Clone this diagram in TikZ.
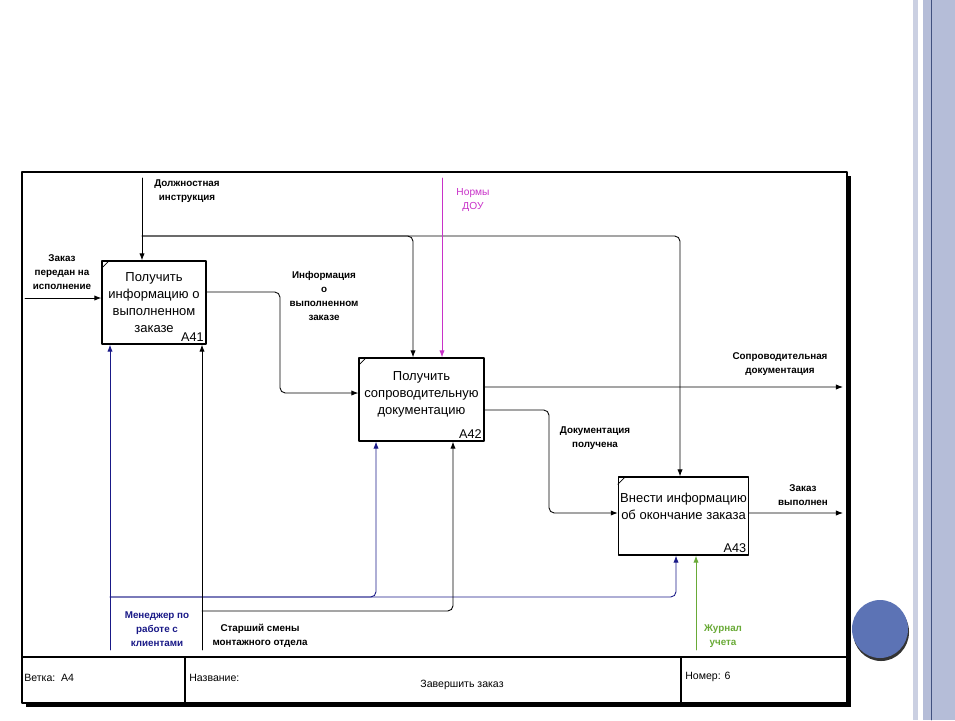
\documentclass[tikz,border=0pt]{standalone}
\usepackage{fontspec}
\setmainfont{Liberation Sans}
\usetikzlibrary{arrows.meta}
\usetikzlibrary{positioning}

\definecolor{navyline}{RGB}{25,25,135}
\definecolor{magline}{RGB}{200,50,200}
\definecolor{greenline}{RGB}{105,170,55}
\definecolor{slideband}{RGB}{181,189,216}
\definecolor{slidestripe}{RGB}{203,208,226}
\definecolor{slidedot}{RGB}{92,115,181}

\tikzset{
	func/.style={draw,line width=0.7pt,fill=white,align=center,inner sep=1pt,
		font=\fontsize{7.4}{9.6}\selectfont},
	fnum/.style={anchor=south east,inner sep=1.5pt,font=\fontsize{7.2}{8}\selectfont},
	lab/.style={align=center,inner sep=0pt,font=\fontsize{5.6}{7.8}\selectfont\bfseries},
	foot/.style={anchor=west,inner sep=0pt,font=\fontsize{6}{7}\selectfont},
	flow/.style={->,line width=0.5pt,rounded corners=3pt},
}

\begin{document}
\begin{tikzpicture}[line cap=round,line join=round,>
		={Latex[length=4pt,width=3pt]},
		x=0.02cm,y=-0.02cm]
		\useasboundingbox (0,0) rectangle (955,720);
		% fondo slide
		\fill[slidestripe] (913,0) rectangle (918,720);
		\fill[slideband] (923,0) rectangle (955,720);
		\draw[slidedot!70!black,line width=0.4pt] (931,0) -- (931,720);
		\fill[black!80] (881,632) ellipse (28 and 29);
		\fill[slidedot] (880,629) ellipse (28 and 29);
		% cornice
		\fill (847,176) rectangle (851,707);
		\fill (26,703) rectangle (851,707);
		\draw[line width=0.7pt] (22,172) rectangle (847,703);
		\draw[line width=0.6pt] (22,657) -- (847,657);
		\draw[line width=0.6pt] (185,657) -- (185,703);
		\draw[line width=0.6pt] (681,657) -- (681,703);
		\node[foot] (vetka) at (24,678) {Ветка:\ \ A4};
		\node[foot] (nazv) at (189,678) {Название:};
		\node[inner sep=0pt,font=\fontsize{6}{7}\selectfont] (zav) at (462,685) {Завершить заказ};
		\node[foot] (nomer) at (685,677) {Номер: 6};
		% blocchi
		\node[func,minimum width=2.08cm,minimum height=1.66cm] (A41) at (154,302.5)
		{Получить\\информацию о\\выполненном\\заказе\hspace{1.2em}};
		\node[func,minimum width=2.5cm,minimum height=1.66cm] (A42) at (421.5,399.5)
		{Получить\\сопроводительную\\документацию\\[-0.5ex]};
		\node[func,minimum width=2.58cm,minimum height=1.56cm] (A43) at (683.5,516)
		{Внести информацию\\об окончание заказа\\[0.3ex]};
		\node[fnum] (n41) at (A41.south east) {A41};
		\node[fnum] (n42) at (A42.south east) {A42};
		\node[fnum] (n43) at (A43.south east) {A43};
		\draw ([yshift=-0.16cm]A41.north west) -- ([xshift=0.16cm]A41.north west);
		\draw ([yshift=-0.16cm]A42.north west) -- ([xshift=0.16cm]A42.north west);
		\draw ([yshift=-0.16cm]A43.north west) -- ([xshift=0.16cm]A43.north west);
		% ingresso
		\coordinate (in1) at (25,298);
		\draw[flow] (in1) -- (in1 -| A41.west);
		\node[lab] (lin1) at (62,272) {Заказ\\передан на\\исполнение};
		% controlli
		\coordinate (c1) at (142,178);
		\coordinate (j1) at (142,236);
		\draw[flow] (c1) -- (c1 |- A41.north);
		\draw[flow] (j1) -| ([xshift=-0.17cm]A42.north);
		\draw[flow] (j1) -| ([xshift=-0.07cm]A43.north);
		\node[lab] (lc1) at (187,191) {Должностная\\инструкция};
		\coordinate (c2) at (442,178);
		\draw[flow,magline] (c2) -- (c2 |- A42.north);
		\node[lab,magline,font=\fontsize{5.8}{7.8}\selectfont] (lc2) at (473,200) {Нормы\\ДОУ};
		% uscite
		\coordinate (k1) at (280,340);
		\draw[flow] ([yshift=0.21cm]A41.east) -| (k1) |- ([yshift=0.13cm]A42.west);
		\node[lab] (lk1) at (324,296) {Информация\\о\\выполненном\\заказе};
		\coordinate (o1) at (843,387);
		\draw[flow] ([yshift=0.25cm]A42.east) -- (o1);
		\node[lab] (lo1) at (780,364) {Сопроводительная\\документация};
		\coordinate (k2) at (549,460);
		\draw[flow] ([yshift=-0.21cm]A42.east) -| (k2) |- ([yshift=0.06cm]A43.west);
		\node[lab] (lk2) at (595,438) {Документация\\получена};
		\coordinate (o2) at (843,513);
		\draw[flow] ([yshift=0.06cm]A43.east) -- (o2);
		\node[lab] (lo2) at (803,495) {Заказ\\выполнен};
		% meccanismi
		\coordinate (m1) at (110,650);
		\coordinate (j2) at (110,597);
		\draw[flow,navyline] (m1) -- (m1 |- A41.south);
		\draw[flow,navyline] (j2) -| ([xshift=-0.91cm]A42.south);
		\draw[flow,navyline] (j2) -| ([xshift=-0.15cm]A43.south);
		\node[lab,navyline] (lm1) at (157,629) {Менеджер по\\работе с\\клиентами};
		\coordinate (m2) at (202,650);
		\coordinate (j3) at (202,611);
		\draw[flow] (m2) -- (m2 |- A41.south);
		\draw[flow] (j3) -| ([xshift=0.63cm]A42.south);
		\node[lab] (lm2) at (260,636) {Старший смены\\монтажного отдела};
		\coordinate (m3) at (696,650);
		\draw[flow,greenline] (m3) -- (m3 |- A43.south);
		\node[lab,greenline] (lm3) at (723,636) {Журнал\\учета};
\end{tikzpicture}
\end{document}
